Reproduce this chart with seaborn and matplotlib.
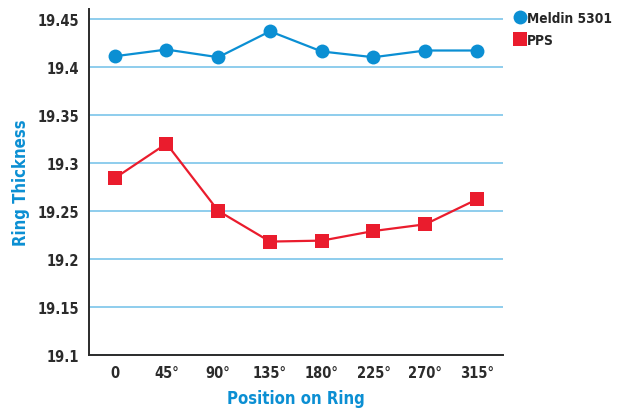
import pandas as pd
import matplotlib
matplotlib.use("Agg")
import matplotlib.pyplot as plt
from matplotlib.lines import Line2D
import seaborn as sns

positions = ["0", "45°", "90°", "135°", "180°", "225°", "270°", "315°"]
meldin = [19.411, 19.418, 19.410, 19.437, 19.416, 19.410, 19.417, 19.417]
pps = [19.284, 19.320, 19.250, 19.218, 19.219, 19.229, 19.236, 19.262]
y_ticks = [19.1, 19.15, 19.2, 19.25, 19.3, 19.35, 19.4, 19.45]
y_tick_labels = ["19.1", "19.15", "19.2", "19.25", "19.3", "19.35", "19.4", "19.45"]

BLUE = "#0b8fd3"
RED = "#ea1c2d"
GRID = "#86c9ec"
DARK = "#2b2b2b"

df = pd.DataFrame({
    "Position": positions * 2,
    "Thickness": meldin + pps,
    "Material": ["Meldin 5301"] * len(positions) + ["PPS"] * len(positions),
})

sns.set_theme(style="white")
plt.rcParams["font.family"] = ["Liberation Sans Narrow", "DejaVu Sans"]
plt.rcParams["font.stretch"] = "condensed"

fig = plt.figure(figsize=(6.17, 4.10), dpi=100)
ax = fig.add_axes([0.144, 0.132, 0.671, 0.844])

for y in y_ticks:
    ax.axhline(y, color=GRID, lw=1.3, zorder=0)

sns.lineplot(
    data=df, x="Position", y="Thickness", hue="Material", style="Material",
    palette={"Meldin 5301": BLUE, "PPS": RED},
    markers={"Meldin 5301": "o", "PPS": "s"}, dashes=False,
    markersize=10, markeredgewidth=0, linewidth=1.6, legend=False, ax=ax,
)

ax.set_xlim(-0.5, 7.5)
ax.set_ylim(19.1, 19.4604)
ax.set_yticks(y_ticks)
ax.set_yticklabels(y_tick_labels)
ax.tick_params(axis="both", length=0, labelsize=10.5, labelcolor=DARK, pad=7)
for lbl in ax.get_xticklabels() + ax.get_yticklabels():
    lbl.set_fontweight("bold")

for side in ["top", "right"]:
    ax.spines[side].set_visible(False)
for side in ["left", "bottom"]:
    ax.spines[side].set_color(DARK)
    ax.spines[side].set_linewidth(1.4)

ax.set_xlabel("Position on Ring", color=BLUE, fontsize=12, fontweight="bold")
ax.set_ylabel("Ring Thickness", color=BLUE, fontsize=12, fontweight="bold")
ax.xaxis.set_label_coords(0.5, -0.098)
ax.yaxis.set_label_coords(-0.142, 0.5)

handles = [
    Line2D([], [], ls="none", marker="o", color=BLUE, markersize=10, markeredgewidth=0),
    Line2D([], [], ls="none", marker="s", color=RED, markersize=10, markeredgewidth=0),
]
fig.legend(handles, ["Meldin 5301", "PPS"], loc="upper left", bbox_to_anchor=(0.827, 0.985),
           frameon=False, handlelength=0.6, handletextpad=0.2, labelspacing=0.6,
           borderaxespad=0, prop={"weight": "bold", "size": 9.8})

fig.savefig("out.png", dpi=100)
